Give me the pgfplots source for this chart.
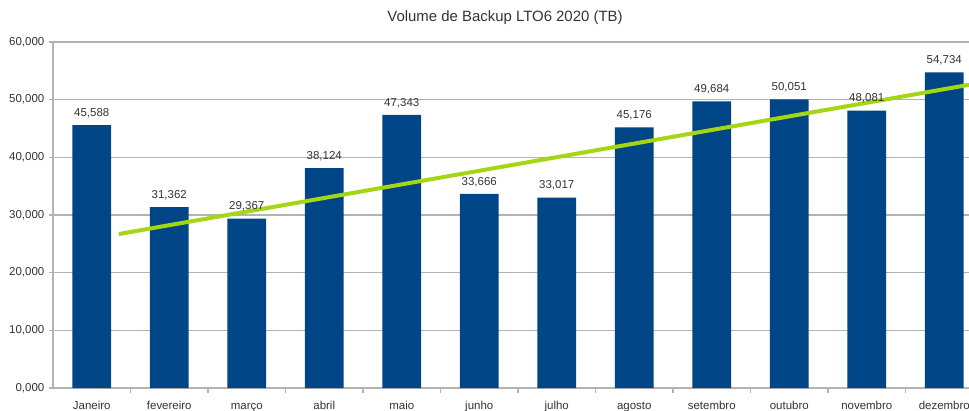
\documentclass[border=0pt]{standalone}
\usepackage{fontspec}
\setmainfont{Liberation Sans}
\usepackage{pgfplots}
\pgfplotsset{compat=1.18}
\definecolor{barblue}{HTML}{004586}
\definecolor{trendgreen}{RGB}{165,214,20}
\definecolor{gridgray}{HTML}{B3B3B3}
\definecolor{txt}{HTML}{333333}
\pgfplotstableread{
x y
0 45.588
1 31.362
2 29.367
3 38.124
4 47.343
5 33.666
6 33.017
7 45.176
8 49.684
9 50.051
10 48.081
11 54.734
}\datatable
\begin{document}
\begin{tikzpicture}
\useasboundingbox (0,0) rectangle (726.75pt,307.5pt);
\clip (0,0) rectangle (726.75pt,307.5pt);
\node[font=\fontsize{11.2}{13}\selectfont, text=txt] at (378.75pt,294pt) {Volume de Backup LTO6 2020 (TB)};
\begin{axis}[
  at={(39.75pt,16.5pt)}, anchor=south west,
  scale only axis, width=697.5pt, height=259.5pt,
  xmin=-0.5, xmax=11.5, ymin=0, ymax=60,
  axis lines*=left,
  axis line style={gridgray, line width=0.8pt},
  ytick={0,10,...,60},
  ymajorgrids, grid style={gridgray, line width=0.8pt},
  xtick={0,...,11},
  xticklabels={Janeiro,fevereiro,março,abril,maio,junho,julho,agosto,setembro,outubro,novembro,dezembro},
  minor xtick={0.5,1.5,...,10.5},
  tick align=outside,
  major tick length=3pt, minor tick length=4pt,
  major x tick style={draw=none},
  minor x tick style={gridgray, line width=0.8pt},
  major y tick style={gridgray, line width=0.8pt},
  ticklabel style={font=\fontsize{8.6}{10}\selectfont, text=txt},
  xticklabel style={yshift=-3pt, text height=6.6pt, text depth=1.8pt},
  /pgf/number format/.cd, fixed, fixed zerofill, precision=3, use comma, assume math mode=true,
]
\addplot[ybar, bar width=29pt, fill=barblue, draw=none,
  nodes near coords,
  every node near coord/.append style={font=\fontsize{8.6}{10}\selectfont, text=txt, yshift=2pt}]
  table[x=x, y=y] {\datatable};
\addplot[trendgreen, line width=3pt, sharp plot, mark=none] coordinates {(0.35,26.7) (11.5,53.0)};
\end{axis}
\end{tikzpicture}
\end{document}
